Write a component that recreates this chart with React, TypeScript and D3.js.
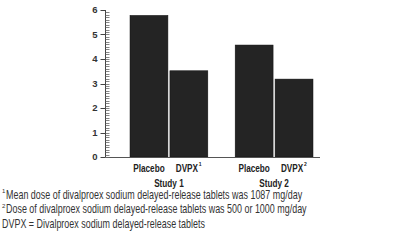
import React from "react";
import * as d3 from "d3";

const groups = ["Study 1", "Study 2"];
const categories = ["Placebo", "DVPX"];
const superscripts = ["1", "2"];
const values = [
  [5.78, 3.52],
  [4.57, 3.18],
];
const majorTicks = [0, 1, 2, 3, 4, 5, 6];
const footnotes = [
  { sup: "1", text: "Mean dose of divalproex sodium delayed-release tablets was 1087 mg/day" },
  { sup: "2", text: "Dose of divalproex sodium delayed-release tablets was 500 or 1000 mg/day" },
  { sup: "", text: "DVPX = Divalproex sodium delayed-release tablets" },
];

export default function App() {
  const W = 400, H = 244;
  const axisX = 105.5;
  const y = d3.scaleLinear().domain([0, 6]).range([157, 10]);
  const gx = d3.scaleBand().domain(groups).range([130, 313]).paddingInner(0.26).paddingOuter(0);
  const bx = d3.scaleBand().domain(categories).range([0, gx.bandwidth()]).paddingInner(0.05);
  const minor = d3.range(0, 60).map((i) => i / 10);
  const font = "'Liberation Sans', Arial, sans-serif";
  const sx = 0.78;
  return (
    <svg width={W} height={H} style={{ position: "absolute", left: 0, top: 0, background: "#fff" }}>
      {groups.map((g, gi) =>
        categories.map((c, ci) => {
          const x0 = (gx(g) as number) + (bx(c) as number);
          return (
            <rect key={g + c} x={x0} y={y(values[gi][ci])} width={bx.bandwidth()}
              height={y(0) - y(values[gi][ci])} fill="#242424" stroke="#111" strokeWidth={0.5} />
          );
        })
      )}
      <line x1={axisX} x2={axisX} y1={y(6)} y2={y(0)} stroke="#444" strokeWidth={1} />
      <line x1={axisX} x2={320} y1={y(0) + 0.5} y2={y(0) + 0.5} stroke="#555" strokeWidth={1.2} />
      {minor.map((t) => (
        <line key={"m" + t} x1={axisX} x2={axisX + 4} y1={Math.round(y(t)) + 0.5} y2={Math.round(y(t)) + 0.5}
          stroke="#666" strokeWidth={0.8} />
      ))}
      {majorTicks.map((t) => (
        <g key={"t" + t}>
          <line x1={axisX - 5} x2={axisX} y1={Math.round(y(t)) + 0.5} y2={Math.round(y(t)) + 0.5} stroke="#444" />
          <text x={axisX - 8} y={y(t)} dy="0.35em" textAnchor="end" fontSize={9.5} fontWeight="bold"
            fontFamily={font} fill="#333">{t}</text>
        </g>
      ))}
      {groups.map((g, gi) => (
        <g key={"lab" + g}>
          {categories.map((c, ci) => {
            const cx = (gx(g) as number) + (bx(c) as number) + bx.bandwidth() / 2 - (ci === 1 ? 2 : 0);
            return (
              <g key={c}>
                <g transform={`translate(${cx},172) scale(${sx},1)`}>
                  <text x={0} y={0} textAnchor="middle" fontSize={10.5} fontWeight="bold"
                    fontFamily={font} fill="#222">{c}</text>
                </g>
                {ci === 1 ? (
                  <text x={cx + 12} y={166} fontSize={5} fontWeight="bold" fontFamily={font}
                    fill="#222">{superscripts[gi]}</text>
                ) : null}
              </g>
            );
          })}
          <g transform={`translate(${(gx(g) as number) + gx.bandwidth() / 2},186.5) scale(${sx},1)`}>
            <text x={0} y={0} textAnchor="middle" fontSize={10.5} fontWeight="bold"
              fontFamily={font} fill="#222">{g}</text>
          </g>
        </g>
      ))}
      {footnotes.map((f, i) => (
        <g key={"f" + i}>
          {f.sup ? (
            <text x={2} y={193 + i * 14.5} fontSize={6} fontFamily={font} fill="#333">{f.sup}</text>
          ) : null}
          <g transform={`translate(${f.sup ? 6 : 2},${198.5 + i * 14.5}) scale(0.745,1)`}>
            <text x={0} y={0} fontSize={12} fontFamily={font} fill="#333">{f.text}</text>
          </g>
        </g>
      ))}
    </svg>
  );
}
